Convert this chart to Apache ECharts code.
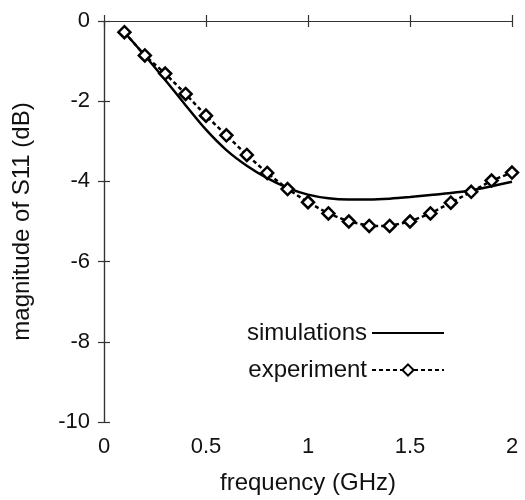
<!DOCTYPE html>
<html>
<head>
<meta charset="utf-8">
<script src="https://cdn.jsdelivr.net/npm/echarts@6/dist/echarts.min.js"></script>
<style>html,body{margin:0;padding:0;background:#fff}#c{width:525px;height:500px}</style>
</head>
<body>
<div id="c"></div>
<script>
var frequency = [0.1,0.2,0.3,0.4,0.5,0.6,0.7,0.8,0.9,1.0,1.1,1.2,1.3,1.4,1.5,1.6,1.7,1.8,1.9,2.0];
var simulations = [-0.28,-0.86,-1.47,-2.10,-2.71,-3.22,-3.61,-3.92,-4.16,-4.33,-4.42,-4.45,-4.45,-4.43,-4.39,-4.34,-4.29,-4.22,-4.12,-4.01];
var experiment = [-0.28,-0.86,-1.31,-1.82,-2.36,-2.85,-3.34,-3.79,-4.19,-4.52,-4.80,-5.00,-5.11,-5.11,-5.00,-4.80,-4.53,-4.26,-3.98,-3.78];
var xTicks = [0, 0.5, 1, 1.5, 2];
var yTicks = [0, -2, -4, -6, -8, -10];

var chart = echarts.init(document.getElementById('c'), null, {renderer:'canvas'});
var font = 'Liberation Sans, Arial, Helvetica, sans-serif';
var axisColor = '#333';
var textColor = '#111';
function pairs(xs, ys){ return xs.map(function(x,i){ return [x, ys[i]]; }); }
var tickCommon = {show:true, inside:true, length:6, lineStyle:{color:axisColor, width:1.2}};
chart.setOption({
  animation:false,
  backgroundColor:'#fff',
  textStyle:{fontFamily:font},
  grid:{left:104, right:13, top:21, bottom:73, containLabel:false},
  legend:{
    orient:'vertical', right:80, top:320, align:'right', padding:0,
    itemWidth:72, itemHeight:14, itemGap:11,
    textStyle:{fontSize:24, lineHeight:26, color:textColor, fontFamily:font},
    data:[{name:'simulations', itemStyle:{opacity:0}}, {name:'experiment'}]
  },
  xAxis:[{
    type:'value', min:0, max:2, interval:0.5, position:'bottom',
    name:'frequency (GHz)', nameLocation:'middle', nameGap:49,
    nameTextStyle:{fontSize:24, color:textColor, fontFamily:font},
    axisLine:{show:true, lineStyle:{color:axisColor, width:1.2}},
    axisTick:tickCommon,
    axisLabel:{fontSize:22, color:textColor, margin:14, fontFamily:font,
      formatter:function(v){ return xTicks.indexOf(v)>=0 ? String(v) : ''; }},
    splitLine:{show:false}
  },{
    type:'value', min:0, max:2, interval:0.5, position:'top',
    axisLine:{show:true, lineStyle:{color:axisColor, width:1.2}},
    axisTick:tickCommon, axisLabel:{show:false}, splitLine:{show:false}
  }],
  yAxis:[{
    type:'value', min:-10, max:0, interval:2, position:'left',
    name:'magnitude of S11 (dB)', nameLocation:'middle', nameGap:70,
    nameTextStyle:{fontSize:24, color:textColor, fontFamily:font},
    axisLine:{show:true, lineStyle:{color:axisColor, width:1.2}},
    axisTick:tickCommon,
    axisLabel:{fontSize:22, color:textColor, margin:14, fontFamily:font,
      formatter:function(v){ return yTicks.indexOf(v)>=0 ? String(v) : ''; }},
    splitLine:{show:false}
  },{
    type:'value', min:-10, max:0, interval:2, position:'right',
    axisLine:{show:true, lineStyle:{color:axisColor, width:1.2}},
    axisTick:tickCommon, axisLabel:{show:false}, splitLine:{show:false}
  }],
  series:[{
    name:'simulations', type:'line', smooth:0.3, symbol:'none',
    data:pairs(frequency, simulations),
    lineStyle:{color:'#000', width:2.5}, itemStyle:{color:'#000'}
  },{
    name:'experiment', type:'line', smooth:false, symbol:'diamond', symbolSize:12,
    data:pairs(frequency, experiment),
    lineStyle:{color:'#000', width:2.5, type:[4,3]},
    itemStyle:{color:'#fff', borderColor:'#000', borderWidth:2.5}
  }]
});
</script>
</body>
</html>
